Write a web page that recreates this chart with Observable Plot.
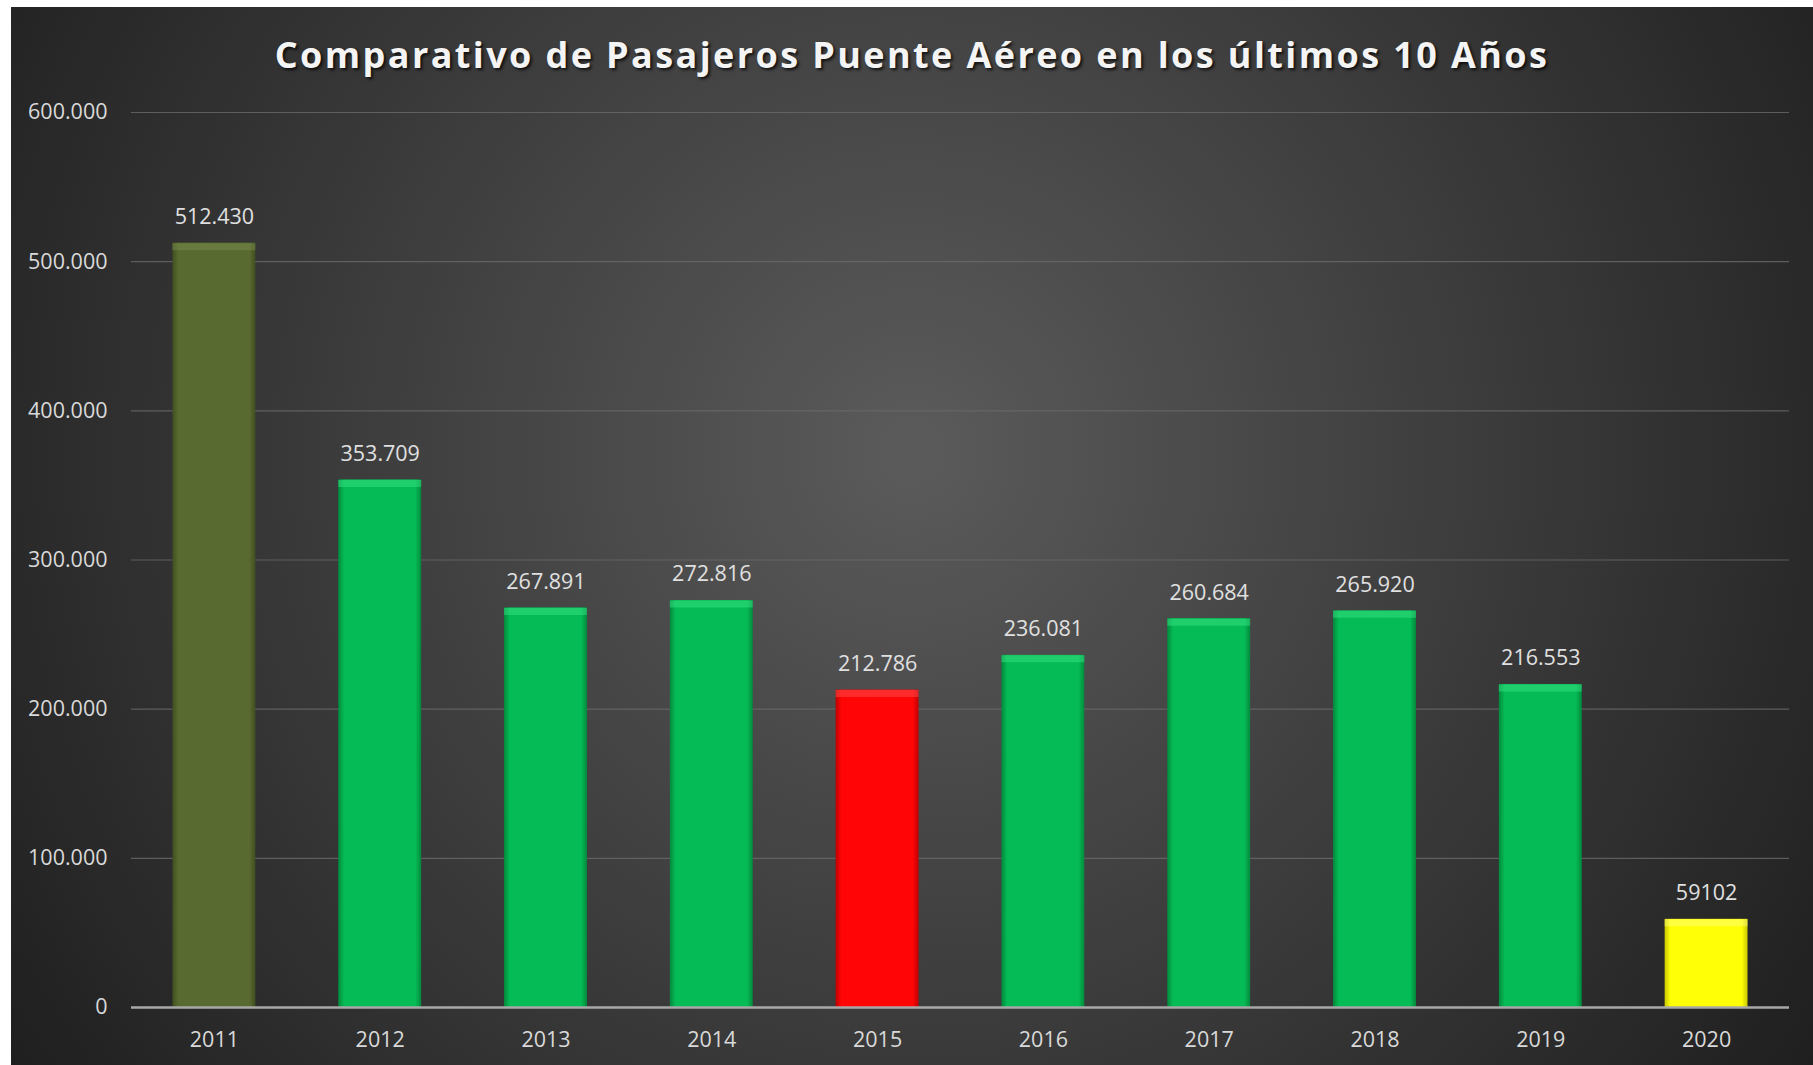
<!DOCTYPE html>
<html>
<head>
<meta charset="utf-8">
<script src="https://cdn.jsdelivr.net/npm/d3@7"></script>
<script src="https://cdn.jsdelivr.net/npm/@observablehq/plot@0.6"></script>
<style>
  html, body { margin: 0; padding: 0; background: #ffffff; }
  #chart {
    position: absolute; left: 11px; top: 7px; width: 1802px; height: 1058px;
    background: radial-gradient(circle farthest-corner at 50% 42%, #5b5b5b 0%, #3a3a3a 55%, #1f1f1f 100%);
    overflow: hidden;
  }
  #title {
    position: absolute; left: 0; width: 100%; top: 23px; text-align: center;
    font-family: "Open Sans", sans-serif; font-weight: 700; font-size: 36px;
    letter-spacing: 2.4px; color: #f4f4f4;
    text-shadow: 2px 2px 3px rgba(0,0,0,0.75);
  }
  #plot { position: absolute; left: 0; top: 60px; }
</style>
</head>
<body>
<div id="chart">
  <div id="title">Comparativo de Pasajeros Puente Aéreo en los últimos 10 Años</div>
  <div id="plot"></div>
</div>
<script>
const years = ["2011","2012","2013","2014","2015","2016","2017","2018","2019","2020"];
const pasajeros = [512430, 353709, 267891, 272816, 212786, 236081, 260684, 265920, 216553, 59102];
const valueLabels = ["512.430","353.709","267.891","272.816","212.786","236.081","260.684","265.920","216.553","59102"];
const barKinds = ["olive","green","green","green","red","green","green","green","green","yellow"];
const yTicks = [0, 100000, 200000, 300000, 400000, 500000, 600000];
const yTickLabels = ["0","100.000","200.000","300.000","400.000","500.000","600.000"];

const palette = {
  olive:  {edge: "#3f4f20", base: "#586a2f", top: "#7d8f50"},
  green:  {edge: "#028a3c", base: "#04bb55", top: "#3fe88a"},
  red:    {edge: "#c00000", base: "#ff0505", top: "#ff5a5a"},
  yellow: {edge: "#c8c800", base: "#ffff05", top: "#ffff8a"}
};

const data = years.map((y, i) => ({
  year: y, value: pasajeros[i], label: valueLabels[i],
  fill: `url(#grad-${barKinds[i]})`, top: palette[barKinds[i]].top
}));

const W = 1802, H = 998;
const chart = Plot.plot({
  width: W, height: H,
  marginLeft: 120, marginRight: 24, marginTop: 45, marginBottom: 58,
  style: {background: "transparent", fontFamily: "'Open Sans', sans-serif", fontSize: "21.5px", color: "#d9d9d9"},
  x: {domain: years, paddingInner: 0.5, paddingOuter: 0.25, round: false, label: null, tickSize: 0, tickPadding: 24},
  y: {domain: [0, 600000], ticks: yTicks, tickFormat: (d) => yTickLabels[yTicks.indexOf(d)], label: null, tickSize: 0, tickPadding: 24},
  color: {type: "identity"},
  marks: [
    Plot.gridY(yTicks.filter(d => d > 0), {stroke: "#6a6a6a", strokeOpacity: 0.8, strokeWidth: 1.2}),
    Plot.barY(data, {x: "year", y: "value", fill: "fill"}),
    Plot.tickY(data, {x: "year", y: "value", stroke: "top", strokeWidth: 7, dy: 3.5, strokeOpacity: 0.45}),
    Plot.ruleY([0], {stroke: "#a8a8a8", strokeWidth: 2.5}),
    Plot.text(data, {x: "year", y: "value", text: "label", dy: -26, fill: "#e0e0e0", fontSize: 21.5, lineAnchor: "middle"})
  ]
});

const defs = d3.select(chart).insert("defs", ":first-child");
for (const [k, c] of Object.entries(palette)) {
  const g = defs.append("linearGradient").attr("id", `grad-${k}`).attr("x1", "0").attr("x2", "1").attr("y1", "0").attr("y2", "0");
  g.append("stop").attr("offset", "0%").attr("stop-color", c.edge);
  g.append("stop").attr("offset", "7%").attr("stop-color", c.base);
  g.append("stop").attr("offset", "93%").attr("stop-color", c.base);
  g.append("stop").attr("offset", "100%").attr("stop-color", c.edge);
}
d3.select(chart).selectAll("[aria-label='y-axis tick label'] text, [aria-label='x-axis tick label'] text").attr("fill", "#d9d9d9");
document.getElementById("plot").appendChild(chart);
</script>
</body>
</html>
